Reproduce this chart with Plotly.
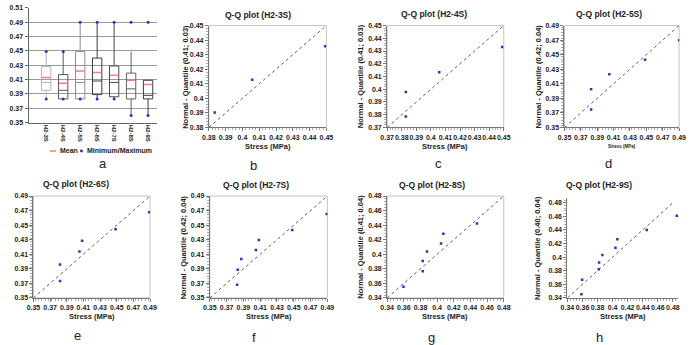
import plotly.graph_objects as go

W, H = 692, 345
FONT = "Liberation Sans, Arial, sans-serif"


def fx(p):
    return p / W


def fy(p):
    return 1 - p / H


# ---------------- Panel a : box plots ----------------
box_labels = ["H2-3S", "H2-4S", "H2-5S", "H2-6S", "H2-7S", "H2-8S", "H2-9S"]
box_lowerfence = [0.383, 0.383, 0.383, 0.383, 0.383, 0.360, 0.360]
box_q1 = [0.395, 0.383, 0.383, 0.389, 0.386, 0.383, 0.383]
box_median = [0.406, 0.395, 0.406, 0.408, 0.406, 0.397, 0.388]
box_q3 = [0.428, 0.417, 0.449, 0.440, 0.429, 0.419, 0.409]
box_upperfence = [0.449, 0.449, 0.490, 0.490, 0.490, 0.449, 0.409]
box_min = [0.383, 0.383, 0.383, 0.383, 0.383, 0.360, 0.360]
box_max = [0.449, 0.449, 0.490, 0.490, 0.490, 0.490, 0.490]
box_mean = [0.413, 0.405, 0.422, 0.420, 0.416, 0.409, 0.403]
box_colors = ["#b4b4b4", "#5a5a5a", "#8c8c8c", "#3c3c3c", "#4a4a4a", "#606060", "#3c3c3c"]
legend_labels = ["Mean", "Minimum/Maximum"]

# ---------------- Q-Q plots (b..h) ----------------
qq_titles = ["Q-Q plot (H2-3S)", "Q-Q plot (H2-4S)", "Q-Q plot (H2-5S)",
             "Q-Q plot (H2-6S)", "Q-Q plot (H2-7S)", "Q-Q plot (H2-8S)",
             "Q-Q plot (H2-9S)"]
qq_ytitles = ["Normal - Quantile (0.41; 0.03)", "Normal - Quantile (0.41; 0.03)",
              "Normal - Quantile (0.42; 0.04)", "",
              "Normal - Quantile (0.42; 0.04)", "Normal - Quantile (0.41; 0.04)",
              "Normal - Quantile (0.40; 0.04)"]
qq_xtitle = "Stress (MPa)"

stress_3S = [0.3835, 0.4058, 0.4492]
quant_3S = [0.3902, 0.4128, 0.4358]
stress_4S = [0.3828, 0.3828, 0.4057, 0.4489]
quant_4S = [0.3785, 0.3979, 0.4134, 0.4332]
stress_5S = [0.3825, 0.3825, 0.4048, 0.4484, 0.4900]
quant_5S = [0.3748, 0.4024, 0.4232, 0.4430, 0.4697]
stress_6S = [0.3819, 0.3819, 0.4052, 0.4084, 0.4486, 0.4890]
quant_6S = [0.3734, 0.3958, 0.4137, 0.4285, 0.4442, 0.4676]
stress_7S = [0.3825, 0.3832, 0.3875, 0.4048, 0.4083, 0.4482, 0.4892]
quant_7S = [0.3680, 0.3886, 0.4034, 0.4160, 0.4294, 0.4433, 0.4653]
stress_8S = [0.3596, 0.3827, 0.3827, 0.3878, 0.4047, 0.4075, 0.4478]
quant_8S = [0.3553, 0.3768, 0.3907, 0.4037, 0.4149, 0.4280, 0.4423]
stress_9S = [0.3586, 0.3595, 0.3816, 0.3820, 0.3864, 0.4037, 0.4063, 0.4453, 0.4852]
quant_9S = [0.3453, 0.3666, 0.3820, 0.3921, 0.4033, 0.4138, 0.4264, 0.4399, 0.4607]

qq_stress = [stress_3S, stress_4S, stress_5S, stress_6S, stress_7S, stress_8S, stress_9S]
qq_quant = [quant_3S, quant_4S, quant_5S, quant_6S, quant_7S, quant_8S, quant_9S]

# axis ranges, tick steps, reference-line ends
qq_range = [(0.38, 0.45), (0.37, 0.45), (0.35, 0.49), (0.35, 0.49),
            (0.35, 0.49), (0.34, 0.48), (0.34, 0.487)]
qq_dtick = [0.01, 0.01, 0.02, 0.02, 0.02, 0.02, 0.02]
qq_line = [(0.38, 0.45), (0.37, 0.45), (0.35, 0.49), (0.35, 0.49),
           (0.35, 0.49), (0.34, 0.48), (0.34, 0.48)]
panel_letters = ["a", "b", "c", "d", "e", "f", "g", "h"]

# ---------------- layout geometry (pixels) ----------------
a_box = (22, 153, 4, 121)
qq_box = [(206, 326, 22, 126), (388, 507, 22, 126), (569, 686, 22, 126),
          (27, 146, 196, 300), (207, 327, 196, 300), (388, 507, 196, 300),
          (572, 685, 198, 300)]
qq_title_pos = [(256, 11), (436, 10), (614, 10), (70, 184), (254, 185), (434, 185), (604, 185)]
qq_ytitle_x = [182, 361, 542, 2, 181, 361, 542]
letter_pos = [(98, 163), (252, 165), (440, 163), (614, 163),
              (72, 338), (252, 340), (433, 340), (605, 340)]

fig = go.Figure()
annotations = []
shapes = []

TEXT_COLOR = "#222222"
tickfont = dict(family=FONT, size=7, color=TEXT_COLOR, weight="bold")
MEAN_COLOR = "#ff7a7a"
MINMAX_COLOR = "#2f2fd0"

# ---- panel a ----
for i, lab in enumerate(box_labels):
    fig.add_trace(go.Box(
        x=[lab], q1=[box_q1[i]], median=[box_median[i]], q3=[box_q3[i]],
        lowerfence=[box_lowerfence[i]], upperfence=[box_upperfence[i]],
        boxpoints=False, whiskerwidth=0, width=0.55,
        line=dict(color=box_colors[i], width=1), fillcolor="rgba(255,255,255,0)",
        xaxis="x", yaxis="y", showlegend=False, hoverinfo="skip"))

fig.add_trace(go.Scatter(
    x=box_labels + box_labels, y=box_min + box_max, mode="markers",
    marker=dict(symbol="circle", size=3, color=MINMAX_COLOR),
    xaxis="x", yaxis="y", showlegend=False))
fig.add_trace(go.Scatter(
    x=box_labels, y=box_mean, mode="markers",
    marker=dict(symbol="line-ew", size=6, line=dict(color=MEAN_COLOR, width=1.5)),
    xaxis="x", yaxis="y", showlegend=False))

layout_axes = {}
layout_axes["xaxis"] = dict(
    domain=[fx(a_box[0]), fx(a_box[1])], anchor="y", type="category",
    range=[-1.04, 6.52], showgrid=False, showline=True, linecolor="#666",
    linewidth=1, ticks="", tickangle=90, zeroline=False,
    tickfont=dict(family=FONT, size=6, color=TEXT_COLOR, weight="bold"))
layout_axes["yaxis"] = dict(
    domain=[fy(a_box[3]), fy(a_box[2])], anchor="x", range=[0.35, 0.51],
    tick0=0.35, dtick=0.02, tickformat=".2f", showgrid=True, gridcolor="#9a9a9a",
    gridwidth=1, showline=True, linecolor="#666", linewidth=1, ticks="outside",
    ticklen=3, tickcolor="#666", zeroline=False, tickfont=tickfont)

# legend of panel a: symbols drawn as shapes, labels as text
shapes.append(dict(type="line", xref="paper", yref="paper",
                   x0=fx(44), x1=fx(50), y0=fy(150), y1=fy(150),
                   line=dict(color=MEAN_COLOR, width=1.5)))
shapes.append(dict(type="circle", xref="paper", yref="paper",
                   x0=fx(74.5), x1=fx(77.5), y0=fy(151.5), y1=fy(148.5),
                   fillcolor=MINMAX_COLOR, line=dict(color=MINMAX_COLOR, width=0)))
annotations.append(dict(x=fx(52), y=fy(150), text=legend_labels[0], xanchor="left"))
annotations.append(dict(x=fx(80), y=fy(150), text=legend_labels[1], xanchor="left"))
for ann in annotations:
    ann.update(xref="paper", yref="paper", showarrow=False, yanchor="middle",
               font=dict(family=FONT, size=7, color=TEXT_COLOR, weight="bold"))

# ---- Q-Q panels ----
for k in range(7):
    n = k + 2
    xa, ya = f"x{n}", f"y{n}"
    x0, x1, y0, y1 = qq_box[k]
    lo, hi = qq_range[k]
    last = (k == 6)
    common = dict(range=[lo, hi], tick0=lo, dtick=qq_dtick[k], showgrid=False,
                  zeroline=False, showline=True, linecolor="#777", linewidth=1,
                  ticks="outside", ticklen=3, tickcolor="#777", tickfont=tickfont,
                  tickangle=0,
                  minor=dict(ticks="outside", ticklen=2, dtick=qq_dtick[k] / 5,
                             tickcolor="#aaa", showgrid=False))
    layout_axes[f"xaxis{n}"] = dict(domain=[fx(x0), fx(x1)], anchor=ya, **common)
    layout_axes[f"yaxis{n}"] = dict(domain=[fy(y1), fy(y0)], anchor=xa, **common)

    l0, l1 = qq_line[k]
    fig.add_trace(go.Scatter(x=[l0, l1], y=[l0, l1], mode="lines",
                             line=dict(color="#333", width=0.8, dash="dot"),
                             xaxis=xa, yaxis=ya, showlegend=False, hoverinfo="skip"))
    fig.add_trace(go.Scatter(x=qq_stress[k], y=qq_quant[k], mode="markers",
                             marker=dict(symbol="square", size=2.5, color=MINMAX_COLOR),
                             xaxis=xa, yaxis=ya, showlegend=False))
    if not last:
        shapes.append(dict(type="rect", xref=f"{xa} domain", yref=f"{ya} domain",
                           x0=0, x1=1, y0=0, y1=1, line=dict(color="#c4c4c4", width=1),
                           layer="below"))
    # title
    tx, ty = qq_title_pos[k]
    annotations.append(dict(x=fx(tx), y=fy(ty), xref="paper", yref="paper",
                            text=qq_titles[k], showarrow=False, xanchor="center",
                            yanchor="middle",
                            font=dict(family=FONT, size=8.5, color=TEXT_COLOR, weight="bold")))
    # x title
    xt_y = 145 if k < 3 else 319
    xt_size = 4.5 if k == 2 else 7.5
    annotations.append(dict(x=fx((x0 + x1) / 2), y=fy(xt_y), xref="paper", yref="paper",
                            text=qq_xtitle, showarrow=False, xanchor="center",
                            yanchor="middle",
                            font=dict(family=FONT, size=xt_size, color=TEXT_COLOR, weight="bold")))
    # y title
    if qq_ytitles[k]:
        annotations.append(dict(x=fx(qq_ytitle_x[k]), y=fy((y0 + y1) / 2),
                                xref="paper", yref="paper", text=qq_ytitles[k],
                                showarrow=False, textangle=-90, xanchor="center",
                                yanchor="middle",
                                font=dict(family=FONT, size=7.5, color=TEXT_COLOR, weight="bold")))

for (lx, ly), letter in zip(letter_pos, panel_letters):
    annotations.append(dict(x=fx(lx), y=fy(ly), xref="paper", yref="paper",
                            text=letter, showarrow=False, xanchor="center",
                            yanchor="middle",
                            font=dict(family=FONT, size=13, color=TEXT_COLOR)))

fig.update_layout(
    width=W, height=H, margin=dict(l=0, r=0, t=0, b=0),
    paper_bgcolor="white", plot_bgcolor="white",
    font=dict(family=FONT, color=TEXT_COLOR),
    annotations=annotations, shapes=shapes, showlegend=False,
    **layout_axes)

fig.write_html("out.html")
